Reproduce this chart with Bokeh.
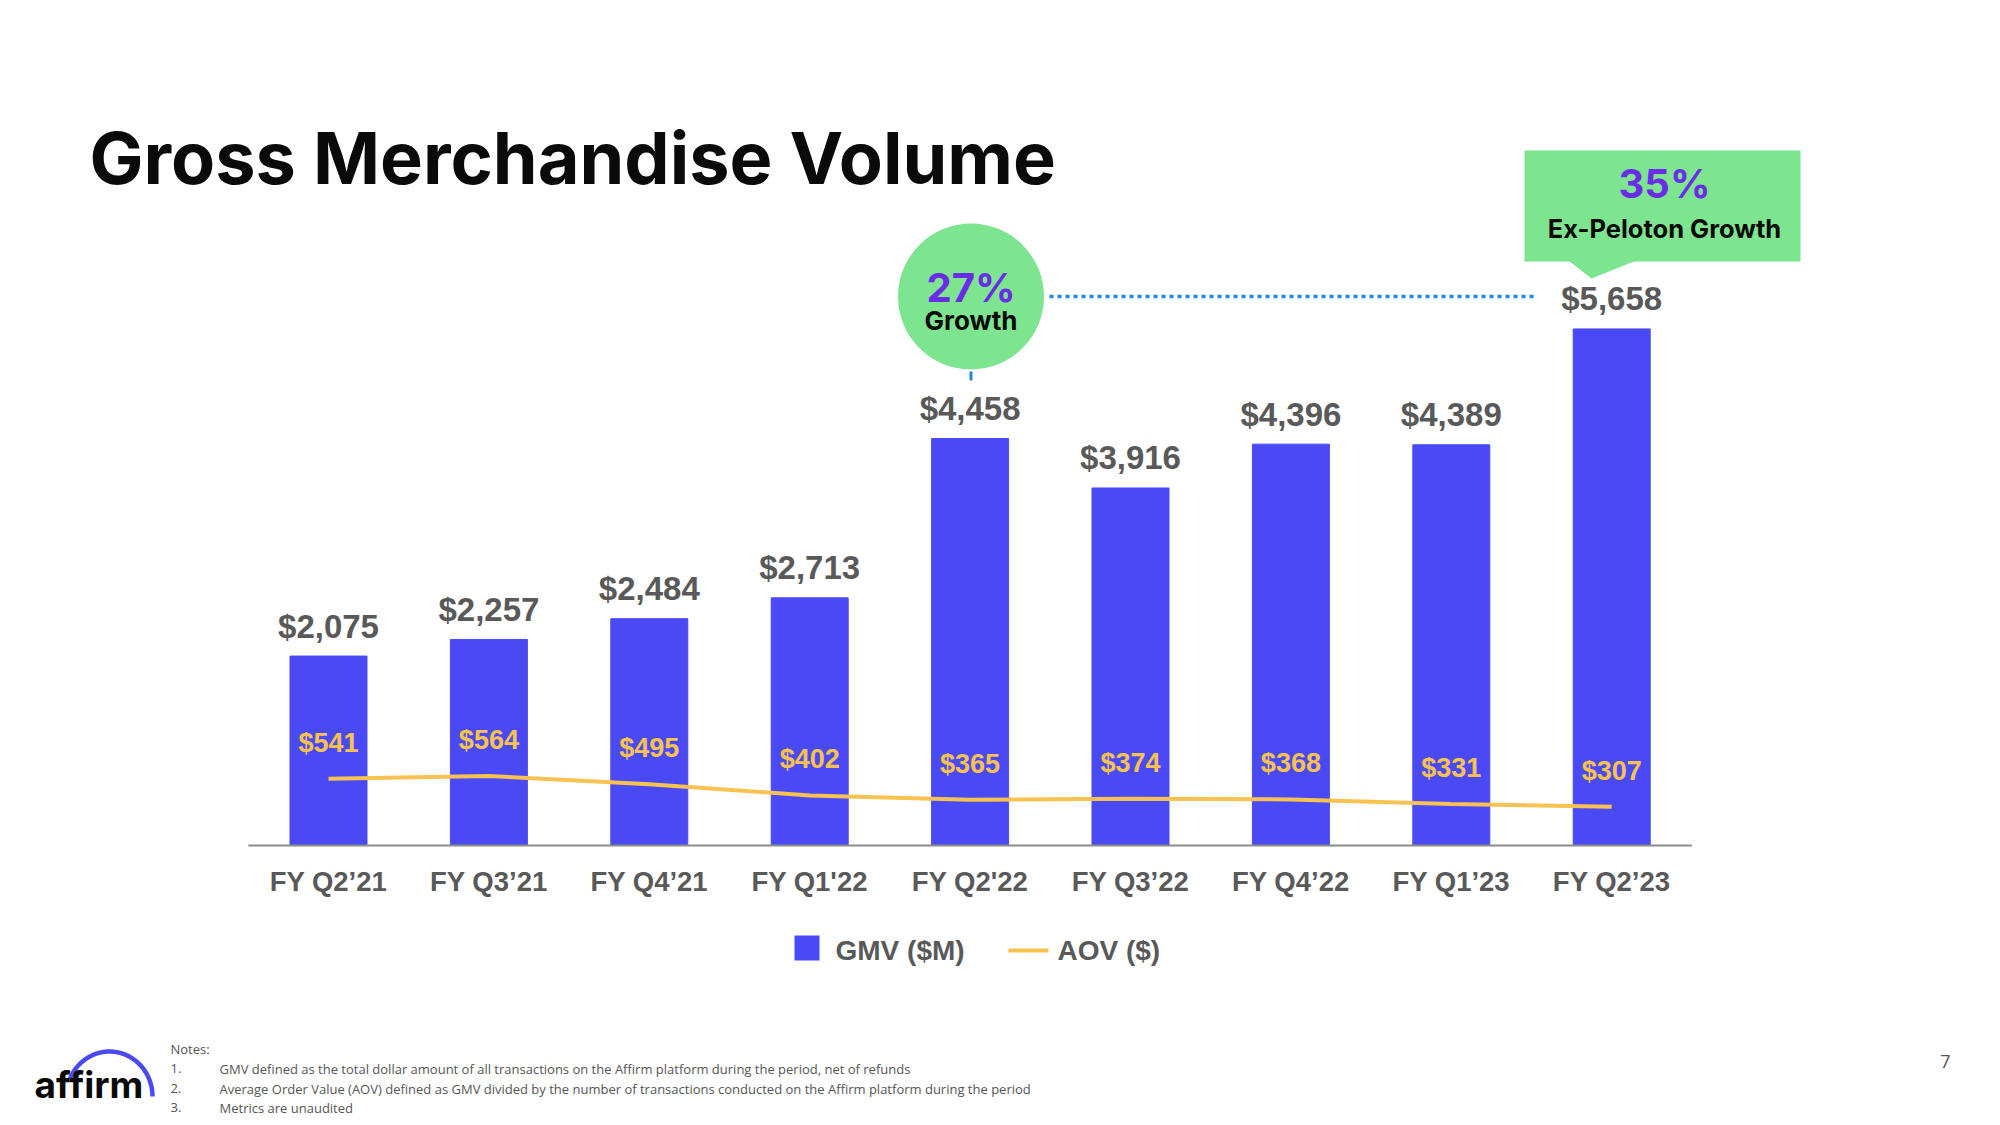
import numpy as np
from bokeh.plotting import figure
from bokeh.models import Range1d, ColumnDataSource
from bokeh.core.properties import value
from bokeh.embed import file_html
from bokeh.resources import INLINE

# ---------------- data ----------------
quarters = ["FY Q2\u201921", "FY Q3\u201921", "FY Q4\u201921", "FY Q1'22", "FY Q2'22",
            "FY Q3\u201922", "FY Q4\u201922", "FY Q1\u201923", "FY Q2\u201923"]
gmv = [2075, 2257, 2484, 2713, 4458, 3916, 4396, 4389, 5658]
aov = [541, 564, 495, 402, 365, 374, 368, 331, 307]
gmv_labels = ["$" + f"{v:,}" for v in gmv]
aov_labels = ["$" + str(v) for v in aov]
legend_labels = ["GMV ($M)", "AOV ($)"]
title_text = "Gross Merchandise Volume"
notes = ["GMV defined as the total dollar amount of all transactions on the Affirm platform during the period, net of refunds",
         "Average Order Value (AOV) defined as GMV divided by the number of transactions conducted on the Affirm platform during the period",
         "Metrics are unaudited"]

# ---------------- styles ----------------
BLUE = "#4A4AF4"
GREEN = "#7DE48F"
PURPLE = "#6A2CE6"
YELLOW = "#F8C251"
GRAY = "#595959"
DOT_BLUE = "#1E88E5"
ARIAL = value("Liberation Sans")
SANS = value("Inter")

OFF = 0  # page offset of the figure
W, H = 2000, 1125
CAT_PX, C0 = 160.4, 328.0
GMV_PX, BASE = 0.0913, 845.0
AOV_PX, AOV_BASE = 0.1197, 843.0

p = figure(width=W, height=H,
           x_range=Range1d((OFF - C0) / CAT_PX, (OFF + W - C0) / CAT_PX),
           y_range=Range1d(-(OFF + H - BASE) / GMV_PX, (BASE - OFF) / GMV_PX),
           output_backend="svg", toolbar_location=None, min_border=0,
           x_axis_type=None, y_axis_type=None, outline_line_color=None,
           background_fill_color="white", border_fill_color="white")
p.extra_x_ranges = {"px": Range1d(OFF, OFF + W)}
p.extra_y_ranges = {"px": Range1d(OFF + H, OFF),
                    "aov": Range1d(-(OFF + H - AOV_BASE) / AOV_PX, (AOV_BASE - OFF) / AOV_PX)}

n = len(quarters)
idx = list(range(n))
src = ColumnDataSource(dict(x=idx, gmv=gmv, aov=aov, gl=gmv_labels, al=aov_labels,
                            q=quarters, zero=[0] * n))

# bars
p.vbar(x="x", top="gmv", width=0.48, color=BLUE, source=src)
# baseline
p.segment(x0=[-0.5], x1=[n - 0.5], y0=[0], y1=[0], line_color="#8C8C8C", line_width=2)
# GMV value labels
p.text(x="x", y="gmv", text="gl", source=src, text_align="center", text_baseline="middle",
       y_offset=-30, text_font=ARIAL, text_font_style="bold", text_font_size="33px", text_color=GRAY)
# category labels
p.text(x="x", y="zero", text="q", source=src, text_align="center", text_baseline="middle",
       y_offset=36, text_font=ARIAL, text_font_style="bold", text_font_size="27.5px", text_color=GRAY)
# AOV line + labels
p.line(x="x", y="aov", source=src, y_range_name="aov", line_color=YELLOW, line_width=4)
p.text(x="x", y="aov", text="al", source=src, y_range_name="aov", text_align="center",
       text_baseline="middle", y_offset=-36, text_font=ARIAL, text_font_style="bold",
       text_font_size="27px", text_color=YELLOW)

PX = dict(x_range_name="px", y_range_name="px")

# title
p.text(x=[89], y=[157], text=[title_text], text_baseline="middle", text_align="left",
       text_font=SANS, text_font_style="bold", text_font_size="72px", text_color="#0A0A0A", **PX)

# 27% growth bubble
p.circle(x=[970.5], y=[296], radius=73, fill_color=GREEN, line_color=None, **PX)
p.line(x=[1049, 1533], y=[296, 296], line_color=DOT_BLUE, line_width=3.5, line_dash="4 4", **PX)
p.segment(x0=[970.5], x1=[970.5], y0=[371], y1=[380], line_color=DOT_BLUE, line_width=3, **PX)
p.text(x=[970.5], y=[287], text=["27%"], text_align="center", text_baseline="middle",
       text_font=SANS, text_font_style="bold", text_font_size="40px", text_color=PURPLE, **PX)
p.text(x=[970.5], y=[320], text=["Growth"], text_align="center", text_baseline="middle",
       text_font=SANS, text_font_style="bold", text_font_size="26px", text_color="#0A0A0A", **PX)

# 35% callout
p.quad(left=[1524], right=[1800], top=[150], bottom=[261], fill_color=GREEN, line_color=None, **PX)
p.patch(x=[1568, 1636, 1591], y=[260, 260, 278], fill_color=GREEN, line_color=None, **PX)
p.text(x=[1664], y=[183], text=["35%"], text_align="center", text_baseline="middle",
       text_font=SANS, text_font_style="bold", text_font_size="40px", text_color=PURPLE, **PX)
p.text(x=[1664], y=[228], text=["Ex-Peloton Growth"], text_align="center", text_baseline="middle",
       text_font=SANS, text_font_style="bold", text_font_size="25.5px", text_color="#0A0A0A", **PX)

# legend
p.quad(left=[794], right=[819], top=[935], bottom=[960], fill_color=BLUE, line_color=None, **PX)
p.text(x=[835], y=[950], text=[legend_labels[0]], text_align="left", text_baseline="middle",
       text_font=ARIAL, text_font_style="bold", text_font_size="28px", text_color=GRAY, **PX)
p.line(x=[1008, 1048], y=[950, 950], line_color=YELLOW, line_width=4, **PX)
p.text(x=[1057], y=[950], text=[legend_labels[1]], text_align="left", text_baseline="middle",
       text_font=ARIAL, text_font_style="bold", text_font_size="28px", text_color=GRAY, **PX)

# footer notes
NOTE_FONT = value("Open Sans")
p.text(x=[170], y=[1048], text=["Notes:"], text_align="left", text_baseline="middle",
       text_font=NOTE_FONT, text_font_size="13px", text_color="#555555", **PX)
note_y = [1068, 1088, 1107]
p.text(x=[170] * 3, y=note_y, text=["1.", "2.", "3."], text_align="left", text_baseline="middle",
       text_font=NOTE_FONT, text_font_size="13px", text_color="#555555", **PX)
p.text(x=[219] * 3, y=note_y, text=notes, text_align="left", text_baseline="middle",
       text_font=NOTE_FONT, text_font_size="13px", text_color="#555555", **PX)

# page number
p.text(x=[1945], y=[1061], text=["7"], text_align="center", text_baseline="middle",
       text_font=NOTE_FONT, text_font_size="18px", text_color="#555555", **PX)

# affirm logo
t = np.linspace(0, np.deg2rad(157), 60)
p.line(x=109 + 43 * np.cos(t), y=1096 - 45 * np.sin(t), line_color=BLUE, line_width=4.5, **PX)
p.text(x=[34], y=[1084], text=["affirm"], text_align="left", text_baseline="middle",
       text_font=SANS, text_font_style="bold", text_font_size="37px", text_color="#0A0A0A", **PX)

open("out.html", "w").write(file_html(p, INLINE))
